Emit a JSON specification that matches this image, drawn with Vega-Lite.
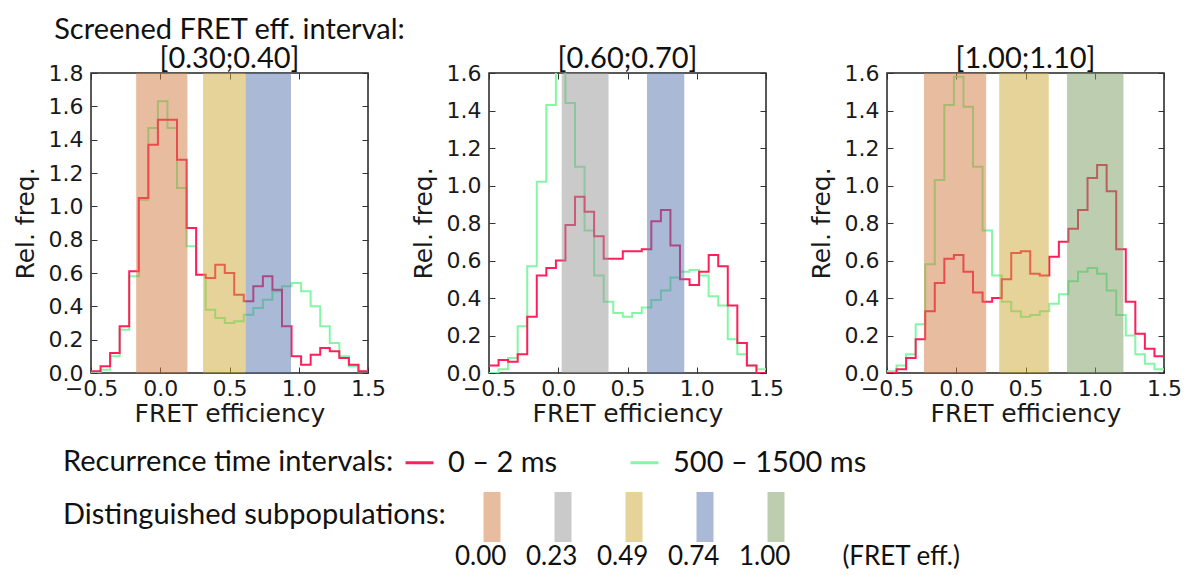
{
  "$schema": "https://vega.github.io/schema/vega-lite/v6.json",
  "padding": {"left": 12, "top": 15, "right": 4, "bottom": 32},
  "bounds": "flush",
  "spacing": 121,
  "datasets": {
    "p1": [
      {"e": -0.5, "fast": 0.01, "slow": 0.00},
      {"e": -0.431, "fast": 0.04, "slow": 0.02},
      {"e": -0.362, "fast": 0.12, "slow": 0.10},
      {"e": -0.293, "fast": 0.28, "slow": 0.26},
      {"e": -0.224, "fast": 0.61, "slow": 0.58},
      {"e": -0.155, "fast": 1.05, "slow": 1.04},
      {"e": -0.086, "fast": 1.37, "slow": 1.47},
      {"e": -0.017, "fast": 1.52, "slow": 1.63},
      {"e": 0.052, "fast": 1.52, "slow": 1.47},
      {"e": 0.121, "fast": 1.28, "slow": 1.11},
      {"e": 0.19, "fast": 0.87, "slow": 0.76},
      {"e": 0.259, "fast": 0.59, "slow": 0.59},
      {"e": 0.328, "fast": 0.57, "slow": 0.38},
      {"e": 0.397, "fast": 0.65, "slow": 0.33},
      {"e": 0.466, "fast": 0.60, "slow": 0.30},
      {"e": 0.534, "fast": 0.47, "slow": 0.31},
      {"e": 0.603, "fast": 0.43, "slow": 0.35},
      {"e": 0.672, "fast": 0.52, "slow": 0.39},
      {"e": 0.741, "fast": 0.58, "slow": 0.44},
      {"e": 0.81, "fast": 0.50, "slow": 0.49},
      {"e": 0.879, "fast": 0.28, "slow": 0.52},
      {"e": 0.948, "fast": 0.10, "slow": 0.54},
      {"e": 1.017, "fast": 0.05, "slow": 0.49},
      {"e": 1.086, "fast": 0.11, "slow": 0.40},
      {"e": 1.155, "fast": 0.15, "slow": 0.28},
      {"e": 1.224, "fast": 0.13, "slow": 0.18},
      {"e": 1.293, "fast": 0.09, "slow": 0.10},
      {"e": 1.362, "fast": 0.05, "slow": 0.04},
      {"e": 1.431, "fast": 0.01, "slow": 0.01},
      {"e": 1.5, "fast": 0.01, "slow": 0.01}
    ],
    "p2": [
      {"e": -0.5, "fast": 0.04, "slow": 0.00},
      {"e": -0.431, "fast": 0.07, "slow": 0.02},
      {"e": -0.362, "fast": 0.06, "slow": 0.08},
      {"e": -0.293, "fast": 0.10, "slow": 0.25},
      {"e": -0.224, "fast": 0.30, "slow": 0.57},
      {"e": -0.155, "fast": 0.52, "slow": 1.02},
      {"e": -0.086, "fast": 0.56, "slow": 1.43},
      {"e": -0.017, "fast": 0.60, "slow": 1.64},
      {"e": 0.052, "fast": 0.79, "slow": 1.44},
      {"e": 0.121, "fast": 0.94, "slow": 1.10},
      {"e": 0.19, "fast": 0.86, "slow": 0.76},
      {"e": 0.259, "fast": 0.73, "slow": 0.52},
      {"e": 0.328, "fast": 0.61, "slow": 0.38},
      {"e": 0.397, "fast": 0.61, "slow": 0.32},
      {"e": 0.466, "fast": 0.65, "slow": 0.30},
      {"e": 0.534, "fast": 0.65, "slow": 0.32},
      {"e": 0.603, "fast": 0.66, "slow": 0.35},
      {"e": 0.672, "fast": 0.81, "slow": 0.39},
      {"e": 0.741, "fast": 0.87, "slow": 0.44},
      {"e": 0.81, "fast": 0.68, "slow": 0.51},
      {"e": 0.879, "fast": 0.50, "slow": 0.54},
      {"e": 0.948, "fast": 0.47, "slow": 0.55},
      {"e": 1.017, "fast": 0.54, "slow": 0.52},
      {"e": 1.086, "fast": 0.63, "slow": 0.41},
      {"e": 1.155, "fast": 0.57, "slow": 0.36},
      {"e": 1.224, "fast": 0.36, "slow": 0.18},
      {"e": 1.293, "fast": 0.16, "slow": 0.10},
      {"e": 1.362, "fast": 0.04, "slow": 0.04},
      {"e": 1.431, "fast": 0.00, "slow": 0.02},
      {"e": 1.5, "fast": 0.00, "slow": 0.02}
    ],
    "p3": [
      {"e": -0.5, "fast": 0.00, "slow": 0.01},
      {"e": -0.431, "fast": 0.02, "slow": 0.04},
      {"e": -0.362, "fast": 0.08, "slow": 0.10},
      {"e": -0.293, "fast": 0.18, "slow": 0.26},
      {"e": -0.224, "fast": 0.33, "slow": 0.58},
      {"e": -0.155, "fast": 0.48, "slow": 1.03},
      {"e": -0.086, "fast": 0.61, "slow": 1.43},
      {"e": -0.017, "fast": 0.63, "slow": 1.58},
      {"e": 0.052, "fast": 0.54, "slow": 1.42},
      {"e": 0.121, "fast": 0.43, "slow": 1.10},
      {"e": 0.19, "fast": 0.38, "slow": 0.76},
      {"e": 0.259, "fast": 0.40, "slow": 0.52},
      {"e": 0.328, "fast": 0.50, "slow": 0.38},
      {"e": 0.397, "fast": 0.64, "slow": 0.33},
      {"e": 0.466, "fast": 0.65, "slow": 0.30},
      {"e": 0.534, "fast": 0.53, "slow": 0.31},
      {"e": 0.603, "fast": 0.52, "slow": 0.33},
      {"e": 0.672, "fast": 0.62, "slow": 0.37},
      {"e": 0.741, "fast": 0.70, "slow": 0.42},
      {"e": 0.81, "fast": 0.77, "slow": 0.49},
      {"e": 0.879, "fast": 0.87, "slow": 0.54},
      {"e": 0.948, "fast": 1.04, "slow": 0.56},
      {"e": 1.017, "fast": 1.11, "slow": 0.53},
      {"e": 1.086, "fast": 0.97, "slow": 0.44},
      {"e": 1.155, "fast": 0.66, "slow": 0.31},
      {"e": 1.224, "fast": 0.38, "slow": 0.20},
      {"e": 1.293, "fast": 0.21, "slow": 0.10},
      {"e": 1.362, "fast": 0.13, "slow": 0.05},
      {"e": 1.431, "fast": 0.09, "slow": 0.02},
      {"e": 1.5, "fast": 0.09, "slow": 0.02}
    ],
    "bands": [
      {"panel": 1, "lo": -0.174, "hi": 0.196, "pop": "0.00"},
      {"panel": 1, "lo": 0.309, "hi": 0.616, "pop": "0.49"},
      {"panel": 1, "lo": 0.616, "hi": 0.944, "pop": "0.74"},
      {"panel": 2, "lo": 0.025, "hi": 0.363, "pop": "0.23"},
      {"panel": 2, "lo": 0.641, "hi": 0.91, "pop": "0.74"},
      {"panel": 3, "lo": -0.233, "hi": 0.216, "pop": "0.00"},
      {"panel": 3, "lo": 0.31, "hi": 0.668, "pop": "0.49"},
      {"panel": 3, "lo": 0.8, "hi": 1.207, "pop": "1.00"}
    ]
  },
  "hconcat": [
    {
      "width": 277, "height": 300,
      "title": {"text": ["Screened FRET eff. interval:", "[0.30;0.40]"]},
      "layer": [
        {
          "data": {"name": "p1"},
          "mark": {"type": "line", "interpolate": "step-after", "strokeWidth": 2, "clip": true},
          "encoding": {
            "x": {"field": "e", "type": "quantitative", "scale": {"domain": [-0.5, 1.5], "nice": false, "zero": false}, "axis": {"orient": "top", "labels": false, "title": null, "values": [-0.5, 0, 0.5, 1, 1.5]}},
            "y": {"field": "slow", "type": "quantitative", "scale": {"domain": [0, 1.8], "nice": false}, "axis": {"orient": "right", "labels": false, "title": null, "values": [0, 0.2, 0.4, 0.6, 0.8, 1.0, 1.2, 1.4, 1.6, 1.8]}},
            "color": {"datum": "slow", "type": "nominal", "scale": {"domain": ["fast", "slow"], "range": ["#ff1f5a", "#84f7a6"]},
              "legend": {"title": "Recurrence time intervals:", "labelExpr": "datum.label == 'fast' ? '0 – 2 ms' : '500 – 1500 ms'", "symbolType": "stroke", "symbolSize": 784, "symbolStrokeWidth": 3, "labelOffset": 13, "columnPadding": 66, "titlePadding": 10, "labelFontSize": 29}}
          }
        },
        {
          "data": {"name": "p1"},
          "mark": {"type": "line", "interpolate": "step-after", "strokeWidth": 2, "clip": true},
          "encoding": {
            "x": {"field": "e", "type": "quantitative", "axis": {"orient": "bottom", "title": "FRET efficiency", "format": ".1f", "values": [-0.5, 0, 0.5, 1, 1.5]}},
            "y": {"field": "fast", "type": "quantitative", "axis": {"orient": "left", "title": "Rel. freq.", "format": ".1f", "values": [0, 0.2, 0.4, 0.6, 0.8, 1.0, 1.2, 1.4, 1.6, 1.8]}},
            "color": {"datum": "fast", "type": "nominal"}
          }
        },
        {
          "data": {"name": "bands"},
          "transform": [{"filter": "datum.panel == 1"}],
          "mark": {"type": "rect", "fillOpacity": 0.5},
          "encoding": {
            "x": {"field": "lo", "type": "quantitative", "axis": null},
            "x2": {"field": "hi"},
            "fill": {"field": "pop", "type": "nominal", "scale": {"domain": ["0.00", "0.23", "0.49", "0.74", "1.00"], "range": ["#d1793d", "#959595", "#cba735", "#5575ad", "#799b61"]},
              "legend": {"title": "Distinguished subpopulations:", "symbolType": "M-0.34,-1H0.34V1H-0.34Z", "symbolSize": 2500, "symbolStrokeWidth": 0, "symbolOpacity": 0.5, "labelAlign": "left", "labelOffset": -62, "columnPadding": 19, "titlePadding": 21, "labelFontSize": 26,
                "titleAnchor": "start", "titleBaseline": "middle",
                "labelExpr": "datum.label == '1.00' ? '1.00\u2003\u2003\u2002(FRET eff.)' : datum.label",
                "encode": {"labels": {"update": {"dy": {"value": 40}}}, "title": {"update": {"dy": {"value": 23}}}}}}
          }
        }
      ],
      "resolve": {"axis": {"x": "independent", "y": "independent"}}
    },
    {
      "width": 277, "height": 300,
      "title": {"text": "[0.60;0.70]"},
      "layer": [
        {
          "data": {"name": "p2"},
          "mark": {"type": "line", "interpolate": "step-after", "strokeWidth": 2, "clip": true},
          "encoding": {
            "x": {"field": "e", "type": "quantitative", "scale": {"domain": [-0.5, 1.5], "nice": false, "zero": false}, "axis": {"orient": "top", "labels": false, "title": null, "values": [-0.5, 0, 0.5, 1, 1.5]}},
            "y": {"field": "slow", "type": "quantitative", "scale": {"domain": [0, 1.6], "nice": false}, "axis": {"orient": "right", "labels": false, "title": null, "values": [0, 0.2, 0.4, 0.6, 0.8, 1.0, 1.2, 1.4, 1.6]}},
            "color": {"datum": "slow", "type": "nominal"}
          }
        },
        {
          "data": {"name": "p2"},
          "mark": {"type": "line", "interpolate": "step-after", "strokeWidth": 2, "clip": true},
          "encoding": {
            "x": {"field": "e", "type": "quantitative", "axis": {"orient": "bottom", "title": "FRET efficiency", "format": ".1f", "values": [-0.5, 0, 0.5, 1, 1.5]}},
            "y": {"field": "fast", "type": "quantitative", "axis": {"orient": "left", "title": "Rel. freq.", "format": ".1f", "values": [0, 0.2, 0.4, 0.6, 0.8, 1.0, 1.2, 1.4, 1.6]}},
            "color": {"datum": "fast", "type": "nominal"}
          }
        },
        {
          "data": {"name": "bands"},
          "transform": [{"filter": "datum.panel == 2"}],
          "mark": {"type": "rect", "fillOpacity": 0.5},
          "encoding": {
            "x": {"field": "lo", "type": "quantitative", "axis": null},
            "x2": {"field": "hi"},
            "fill": {"field": "pop", "type": "nominal"}
          }
        }
      ],
      "resolve": {"axis": {"x": "independent", "y": "independent"}}
    },
    {
      "width": 277, "height": 300,
      "title": {"text": "[1.00;1.10]"},
      "layer": [
        {
          "data": {"name": "p3"},
          "mark": {"type": "line", "interpolate": "step-after", "strokeWidth": 2, "clip": true},
          "encoding": {
            "x": {"field": "e", "type": "quantitative", "scale": {"domain": [-0.5, 1.5], "nice": false, "zero": false}, "axis": {"orient": "top", "labels": false, "title": null, "values": [-0.5, 0, 0.5, 1, 1.5]}},
            "y": {"field": "slow", "type": "quantitative", "scale": {"domain": [0, 1.6], "nice": false}, "axis": {"orient": "right", "labels": false, "title": null, "values": [0, 0.2, 0.4, 0.6, 0.8, 1.0, 1.2, 1.4, 1.6]}},
            "color": {"datum": "slow", "type": "nominal"}
          }
        },
        {
          "data": {"name": "p3"},
          "mark": {"type": "line", "interpolate": "step-after", "strokeWidth": 2, "clip": true},
          "encoding": {
            "x": {"field": "e", "type": "quantitative", "axis": {"orient": "bottom", "title": "FRET efficiency", "format": ".1f", "values": [-0.5, 0, 0.5, 1, 1.5]}},
            "y": {"field": "fast", "type": "quantitative", "axis": {"orient": "left", "title": "Rel. freq.", "format": ".1f", "values": [0, 0.2, 0.4, 0.6, 0.8, 1.0, 1.2, 1.4, 1.6]}},
            "color": {"datum": "fast", "type": "nominal"}
          }
        },
        {
          "data": {"name": "bands"},
          "transform": [{"filter": "datum.panel == 3"}],
          "mark": {"type": "rect", "fillOpacity": 0.5},
          "encoding": {
            "x": {"field": "lo", "type": "quantitative", "axis": null},
            "x2": {"field": "hi"},
            "fill": {"field": "pop", "type": "nominal"}
          }
        }
      ],
      "resolve": {"axis": {"x": "independent", "y": "independent"}}
    }
  ],
  "resolve": {"scale": {"color": "shared", "fill": "shared"}},
  "config": {
    "background": "white",
    "view": {"stroke": "#222", "strokeWidth": 1.5},
    "title": {"font": "Lato", "fontSize": 29, "fontWeight": "normal", "color": "#111", "offset": -12, "lineHeight": 29},
    "axis": {"labelFont": "DejaVu Sans", "labelFontSize": 22, "labelColor": "#1a1a1a", "titleFont": "DejaVu Sans", "titleFontSize": 25, "titleFontWeight": "normal", "titleColor": "#1a1a1a", "tickColor": "#333", "tickSize": -6, "tickWidth": 1, "domain": false, "grid": false, "labelFlush": false, "labelOverlap": false},
    "axisBottom": {"labelPadding": 11, "titlePadding": 2},
    "axisLeft": {"labelPadding": 14, "titlePadding": 10},
    "axisTop": {"minExtent": 0, "maxExtent": 0, "labelPadding": 0},
    "axisRight": {"minExtent": 0, "maxExtent": 0, "labelPadding": 0},
    "legend": {
      "orient": "bottom", "direction": "horizontal", "titleOrient": "left",
      "labelFont": "Lato", "labelFontSize": 27, "labelColor": "#111",
      "titleFont": "Lato", "titleFontSize": 29, "titleFontWeight": "normal", "titleColor": "#111",
      "titleLimit": 600, "labelLimit": 600, "offset": 48, "padding": -28,
      "layout": {"bottom": {"direction": "vertical", "anchor": "start", "margin": 45}}
    }
  }
}
